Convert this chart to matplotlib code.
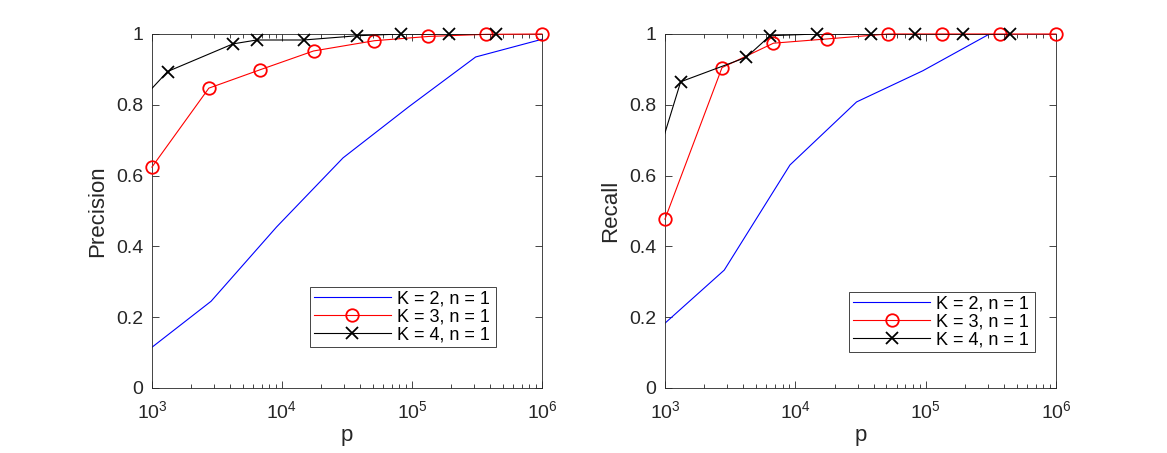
import numpy as np
import matplotlib.pyplot as plt
from matplotlib.lines import Line2D
from matplotlib.ticker import LogLocator, NullFormatter

plt.rcParams['font.family'] = ['Liberation Sans', 'DejaVu Sans']
plt.rcParams['mathtext.fontset'] = 'custom'
plt.rcParams['mathtext.rm'] = 'Liberation Sans'

# p values
p_k2 = [1000, 2850, 9100, 29500, 95000, 309000, 1000000]
p_k3 = [1000, 2740, 6800, 17500, 51500, 134000, 370000, 1000000]
p_k4 = [680, 1320, 4200, 6400, 14700, 38000, 82500, 192000, 445000]

prec_k2 = [0.115, 0.245, 0.455, 0.65, 0.795, 0.935, 0.985]
prec_k3 = [0.624, 0.847, 0.899, 0.952, 0.981, 0.993, 0.999, 1.0]
prec_k4 = [0.78, 0.894, 0.972, 0.983, 0.983, 0.995, 1.0, 1.0, 1.0]

rec_k2 = [0.183, 0.333, 0.63, 0.808, 0.896, 1.0, 1.0]
rec_k3 = [0.477, 0.905, 0.974, 0.986, 1.0, 1.0, 1.0, 1.0]
rec_k4 = [0.52, 0.865, 0.934, 0.995, 1.0, 1.0, 1.0, 1.0, 1.0]

labels = ['K = 2, n = 1', 'K = 3, n = 1', 'K = 4, n = 1']

fig = plt.figure(figsize=(11.67, 4.53), dpi=100)
ax1 = fig.add_axes([0.1302, 0.1435, 0.3342, 0.7815])
ax2 = fig.add_axes([0.5698, 0.1435, 0.3351, 0.7815])

panels = [(ax1, prec_k2, prec_k3, prec_k4, 'Precision', (0.405, 0.116, 0.477, 0.195)),
          (ax2, rec_k2, rec_k3, rec_k4, 'Recall', (0.471, 0.102, 0.475, 0.198))]

gray = '#262626'

for ax, y2, y3, y4, ylab, lbox in panels:
    ax.plot(p_k2, y2, color='blue', lw=0.8)
    ax.plot(p_k3, y3, color='red', lw=0.8, marker='o', ms=9, mfc='none',
            mew=1.3, clip_on=False, zorder=3)
    # black line is clipped at the left edge, markers are not
    ax.plot(p_k4, y4, color='black', lw=0.8, zorder=4)
    ax.plot(p_k4[1:], y4[1:], color='black', ls='none', marker='x', ms=9,
            mew=1.3, clip_on=False, zorder=4)
    ax.set_xscale('log')
    ax.set_xlim(1e3, 1e6)
    ax.set_ylim(0, 1)
    ax.set_yticks([0, 0.2, 0.4, 0.6, 0.8, 1.0])
    ax.set_yticklabels(['0', '0.2', '0.4', '0.6', '0.8', '1'])
    ax.xaxis.set_major_locator(LogLocator(base=10, numticks=10))
    ax.xaxis.set_minor_locator(LogLocator(base=10, subs=np.arange(2, 10), numticks=10))
    ax.xaxis.set_minor_formatter(NullFormatter())
    ax.tick_params(which='both', direction='in', top=True, right=True,
                   labelsize=14, colors=gray, width=0.6)
    ax.tick_params(which='major', length=5)
    ax.tick_params(which='minor', length=3)
    ax.tick_params(axis='x', which='major', pad=9)
    ax.tick_params(axis='y', which='major', pad=6)
    for s in ax.spines.values():
        s.set_color(gray)
        s.set_linewidth(0.6)
    ax.set_xlabel('p', fontsize=16, color=gray, labelpad=2)
    ax.set_ylabel(ylab, fontsize=16, color=gray, labelpad=6)

    handles = [Line2D([], [], color='blue', lw=0.8),
               Line2D([], [], color='red', lw=0.8, marker='o', ms=9, mfc='none', mew=1.3),
               Line2D([], [], color='black', lw=0.8, marker='x', ms=9, mew=1.3)]
    leg = ax.legend(handles, labels, loc='lower left', bbox_to_anchor=lbox,
                    mode='expand', fontsize=13, fancybox=False, framealpha=1,
                    edgecolor=gray, handlelength=4.3, borderpad=0.2,
                    labelspacing=0.05, handletextpad=0.3, borderaxespad=0)
    leg.get_frame().set_linewidth(0.6)
    leg.set_zorder(5)

fig.savefig('out.png', dpi=100)
